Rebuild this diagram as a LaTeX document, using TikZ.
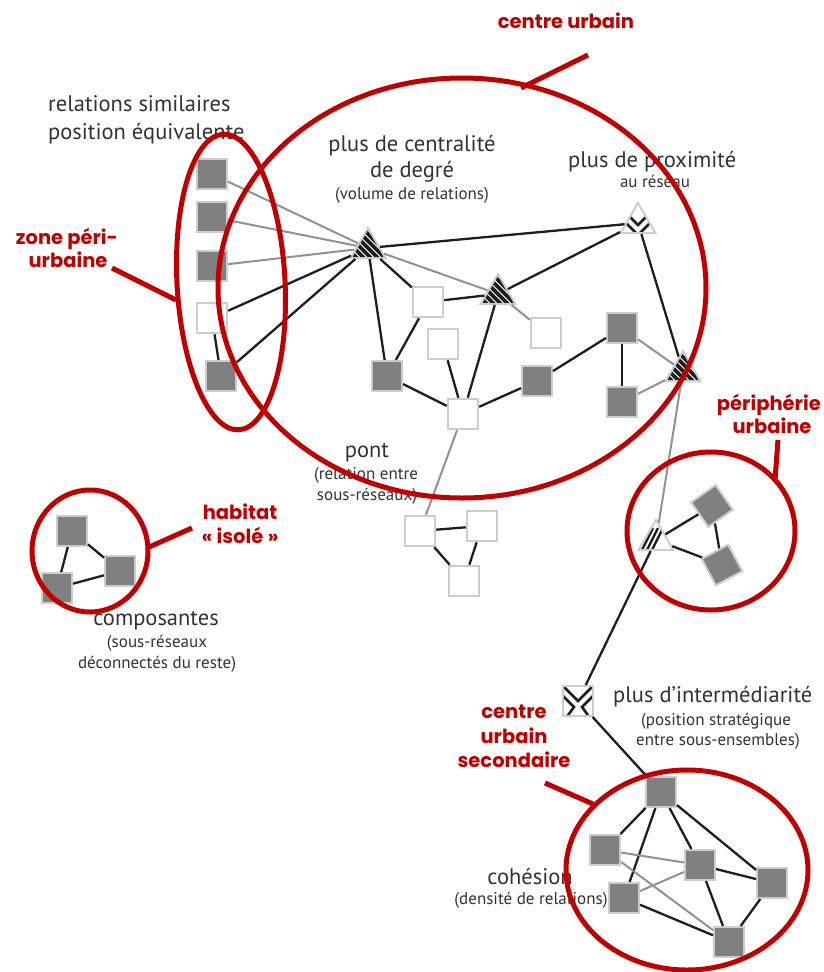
\documentclass[tikz,border=0pt]{standalone}
\usepackage{fontspec}
\setmainfont{PT Sans}
\newfontfamily\redfont{Poppins}
\usetikzlibrary{shapes.geometric}
\definecolor{redc}{RGB}{192,0,0}
\definecolor{txt}{RGB}{50,50,50}
\definecolor{sqfill}{RGB}{128,128,128}
\definecolor{sqedge}{RGB}{205,205,205}
\definecolor{grayline}{RGB}{145,145,145}
\definecolor{blackline}{RGB}{30,30,30}
\begin{document}
\begin{tikzpicture}[x=1pt,y=-1pt,
  gsq/.style={draw=sqedge, fill=sqfill, line width=2pt, minimum size=30pt, inner sep=0pt},
  wsq/.style={draw=sqedge, fill=white, line width=2.5pt, minimum size=30pt, inner sep=0pt},
  tri/.style={regular polygon, regular polygon sides=3, draw=sqedge, fill=white, line width=2pt, minimum size=40pt, inner sep=0pt},
  hatch/.style={path picture={
    \foreach \k in {-35,-28,...,35}{
      \draw[line width=3.6pt, draw=blackline, shift={(path picture bounding box.center)}] (\k-25,-25) -- (\k+25,25);
    }}},
  chev/.style={path picture={
    \begin{scope}[shift={(path picture bounding box.center)}, line width=2.6pt, draw=blackline]
      \draw (-20,-18) -- (0,2) -- (20,-18);
      \draw (-20,-8) -- (0,12) -- (20,-8);
    \end{scope}}},
  part/.style={path picture={
    \begin{scope}[shift={(path picture bounding box.center)}, line width=2.4pt, draw=blackline]
      \foreach \o in {-9,-4,1}{\draw (\o-7,14) -- (\o+6,-12);}
    \end{scope}}},
  mchev/.style={path picture={
    \begin{scope}[shift={(path picture bounding box.center)}, line width=2.6pt, draw=blackline]
      \draw (-17,-17) -- (0,0) -- (17,-17);
      \draw (-17,-7) -- (-4,6) -- (-12,17);
      \draw (17,-7) -- (4,6) -- (12,17);
    \end{scope}}},
  edge/.style={line width=2.3pt, draw=blackline},
  gedge/.style={line width=2pt, draw=grayline},
  ring/.style={draw=redc, line width=5pt},
  lead/.style={draw=redc, line width=5pt},
  redtxt/.style={text=redc, font=\redfont\bfseries\fontsize{19.5}{24}\selectfont, anchor=base, inner sep=0pt},
  big/.style={text=txt, font=\fontsize{22.5}{27}\selectfont, anchor=base, inner sep=0pt},
  small/.style={text=txt, font=\fontsize{17}{20}\selectfont, anchor=base, inner sep=0pt}
]
\useasboundingbox (0,0) rectangle (823,972);

% ---------- texts ----------
\node[big, anchor=base west] (rs1) at (48,111) {relations similaires};
\node[big, anchor=base west] (rs2) at (48,139) {position équivalente};
\node[big] (cd1) at (412,151) {plus de centralité};
\node[big] (cd2) at (412,177) {de degré};
\node[small] (cd3) at (412,199) {(volume de relations)};
\node[big, anchor=base west] (px1) at (568,167) {plus de proximité};
\node[small] (px2) at (655,187) {au réseau};
\node[big] (pt1) at (367,457) {pont};
\node[small] (pt2) at (366,479) {(relation entre};
\node[small] (pt3) at (367,500) {sous-réseaux)};
\node[big] (cp1) at (156,625) {composantes};
\node[small] (cp2) at (157,647) {(sous-réseaux};
\node[small] (cp3) at (157,668) {déconnectés du reste)};
\node[big, anchor=base west] (im1) at (613,702) {plus d’intermédiarité};
\node[small] (im2) at (716,725) {(position stratégique};
\node[small] (im3) at (718,745) {entre sous-ensembles)};
\node[big] (ch1) at (530,884) {cohésion};
\node[small] (ch2) at (531,904) {(densité de relations)};

% ---------- nodes ----------
\node[gsq] (L1) at (212,174) {};
\node[gsq] (L2) at (212,217) {};
\node[gsq] (L3) at (212,266) {};
\node[wsq] (L4) at (212,318) {};
\node[gsq] (L5) at (221,376) {};

\node[tri,hatch] (T1) at (368,248) {};
\node[tri,hatch] (T2) at (498,294) {};
\node[tri,chev] (T3) at (638,223) {};
\node[tri,hatch] (T4) at (683,371) {};
\node[tri,part] (T5) at (656,540) {};

\node[wsq] (W1) at (428,302) {};
\node[wsq] (W2) at (443,344) {};
\node[wsq] (W3) at (546,333) {};
\node[gsq] (G1) at (387,376) {};
\node[gsq] (G2) at (537,381) {};
\node[wsq] (W4) at (463,414) {};
\node[gsq] (G3) at (622,328) {};
\node[gsq] (G4) at (622,402) {};

\node[wsq] (P1) at (420,531) {};
\node[wsq] (P2) at (482,526) {};
\node[wsq] (P3) at (464,581) {};

\node[gsq, rotate=35] (D1) at (712,506) {};
\node[gsq, rotate=28] (D2) at (722,565) {};

\node[gsq] (C1) at (72,531) {};
\node[gsq] (C2) at (120,571) {};
\node[gsq] (C3) at (57,588) {};

\node[wsq, line width=2pt, mchev] (M) at (578,701) {};

\node[gsq] (K1) at (661,792) {};
\node[gsq] (K2) at (605,850) {};
\node[gsq] (K3) at (700,865) {};
\node[gsq] (K4) at (772,883) {};
\node[gsq] (K5) at (624,898) {};
\node[gsq] (K6) at (729,942) {};

% ---------- edges ----------
\draw[gedge] (L1) -- (T1);
\draw[gedge] (L2) -- (T1);
\draw[gedge] (L3) -- (T1);
\draw[edge] (L4) -- (T1);
\draw[edge] (L5) -- (T1);
\draw[edge] (L4) -- (L5);
\draw[edge] (T1) -- (T3);
\draw[gedge] (T1) -- (T2);
\draw[edge] (T1) -- (W1);
\draw[edge] (T1) -- (G1);
\draw[edge] (W1) -- (T2);
\draw[edge] (W1) -- (G1);
\draw[gedge] (T2) -- (W3);
\draw[edge] (T2) -- (W4);
\draw[edge] (T2) -- (T3);
\draw[edge] (W2) -- (W4);
\draw[edge] (G1) -- (W4);
\draw[edge] (W4) -- (G2);
\draw[edge] (G2) -- (G3);
\draw[edge] (G3) -- (G4);
\draw[gedge] (G3) -- (T4);
\draw[gedge] (G4) -- (T4);
\draw[edge] (T3) -- (T4);
\draw[gedge] (T4) -- (T5);
\draw[gedge] (W4) -- (P1);
\draw[edge] (P1) -- (P2);
\draw[edge] (P1) -- (P3);
\draw[edge] (P2) -- (P3);
\draw[edge] (T5) -- (D1);
\draw[edge] (T5) -- (D2);
\draw[edge] (D1) -- (D2);
\draw[edge] (T5) -- (M);
\draw[edge] (M) -- (K1);
\draw[edge] (C1) -- (C2);
\draw[edge] (C1) -- (C3);
\draw[edge] (C3) -- (C2);
\draw[edge] (K1) -- (K2);
\draw[edge] (K1) -- (K5);
\draw[edge] (K1) -- (K3);
\draw[edge] (K1) -- (K4);
\draw[gedge] (K2) -- (K3);
\draw[gedge] (K2) -- (K6);
\draw[gedge] (K5) -- (K3);
\draw[edge] (K5) -- (K6);
\draw[edge] (K3) -- (K6);
\draw[edge] (K3) -- (K4);
\draw[edge] (K4) -- (K6);

% ---------- red annotations ----------
\draw[ring] (462,288) ellipse [x radius=244, y radius=210];
\draw[ring, rotate around={3:(231,282)}] (231,282) ellipse [x radius=54, y radius=148];
\draw[ring] (90,551) ellipse [x radius=58, y radius=61];
\draw[ring] (711,531) ellipse [x radius=84, y radius=79];
\draw[ring] (687,870) ellipse [x radius=121, y radius=100];

\node[redtxt] (r1) at (566,28) {centre urbain};
\node[redtxt] (r2) at (67,244) {zone péri-};
\node[redtxt] (r3) at (68,267) {urbaine};
\node[redtxt] (r4) at (240,519) {habitat};
\node[redtxt] (r5) at (240,543) {« isolé »};
\node[redtxt, anchor=base east] (r6) at (821,410) {périphérie};
\node[redtxt] (r7) at (772,433) {urbaine};
\node[redtxt] (r8) at (514,718) {centre};
\node[redtxt] (r9) at (514,743) {urbain};
\node[redtxt] (r10) at (514,767) {secondaire};

\coordinate (a1) at (588,55);  \coordinate (b1) at (521,88);
\coordinate (a2) at (112,268); \coordinate (b2) at (176,300);
\coordinate (a3) at (192,528); \coordinate (b3) at (147,548);
\coordinate (a4) at (778,440); \coordinate (b4) at (775,480);
\coordinate (a5) at (545,783); \coordinate (b5) at (593,804);
\draw[lead] (a1) -- (b1);
\draw[lead] (a2) -- (b2);
\draw[lead] (a3) -- (b3);
\draw[lead] (a4) -- (b4);
\draw[lead] (a5) -- (b5);
\end{tikzpicture}
\end{document}
